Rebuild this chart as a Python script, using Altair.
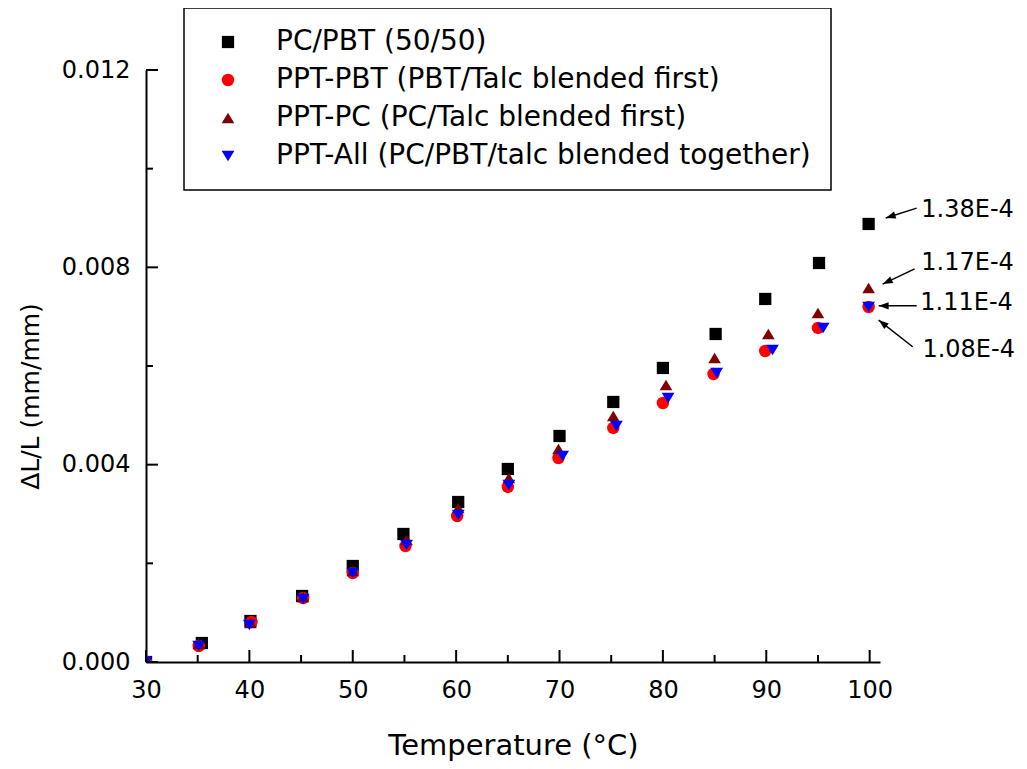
import altair as alt
import pandas as pd
import numpy as np

FONT = "DejaVu Sans"

# ---------------- data ----------------
series_names = [
    "PC/PBT (50/50)",
    "PPT-PBT (PBT/Talc blended first)",
    "PPT-PC (PC/Talc  blended first)",
    "PPT-All (PC/PBT/talc blended together)",
]
series_colors = ["#000000", "#ff0000", "#800000", "#0000ff"]
TRI_UP = "M-1,0.82L1,0.82L0,-0.82Z"
TRI_DOWN = "M-1,-0.82L1,-0.82L0,0.82Z"
series_shapes = ["square", "circle", TRI_UP, TRI_DOWN]
series_sizes = [150, 165, 245, 245]

temp_pcpbt = [30, 35.4, 40.1, 45.1, 50.0, 54.9, 60.2, 65.0, 70.0, 75.2, 80.0, 85.1, 89.9, 95.1, 99.9]
dl_pcpbt = [0, 0.000385, 0.000831, 0.001338, 0.001946, 0.002595, 0.003243, 0.003912,
            0.004581, 0.005271, 0.005960, 0.006649, 0.007359, 0.008088, 0.008879]

temp_ppt_pbt = [30, 35.1, 40.2, 45.2, 50.0, 55.1, 60.1, 65.0, 69.9, 75.2, 80.0, 84.9, 89.9, 95.0, 99.9]
dl_ppt_pbt = [0, 0.000324, 0.000811, 0.001297, 0.001804, 0.002351, 0.002960, 0.003548,
              0.004135, 0.004744, 0.005250, 0.005838, 0.006304, 0.006771, 0.007196]

temp_ppt_pc = [30, 35.1, 40.1, 45.2, 50.0, 55.2, 60.2, 65.1, 69.9, 75.2, 80.3, 85.0, 90.2, 95.0, 99.9]
dl_ppt_pc = [0, 0.000365, 0.000791, 0.001318, 0.001845, 0.002473, 0.003122, 0.003730,
             0.004318, 0.004987, 0.005615, 0.006163, 0.006649, 0.007075, 0.007582]

temp_ppt_all = [30, 35.1, 40.0, 45.2, 50.0, 55.2, 60.2, 65.1, 70.3, 75.5, 80.5, 85.2, 90.6, 95.5, 99.9]
dl_ppt_all = [0, 0.000324, 0.000750, 0.001277, 0.001804, 0.002372, 0.002980, 0.003588,
              0.004176, 0.004784, 0.005352, 0.005858, 0.006325, 0.006771, 0.007196]

x_major = [30, 40, 50, 60, 70, 80, 90, 100]
x_minor = [35, 45, 55, 65, 75, 85, 95]
y_major = [0.0, 0.004, 0.008, 0.012]
y_minor = [0.002, 0.006, 0.010]

ann_text = ["1.38E-4", "1.17E-4", "1.11E-4", "1.08E-4"]
ann_text_x = [105.0, 105.0, 104.9, 105.1]
ann_text_y = [0.00916, 0.00809, 0.00728, 0.00632]
arrow_tail_x = [104.55, 104.35, 104.55, 104.16]
arrow_tail_y = [0.00920, 0.00797, 0.00722, 0.00639]
arrow_head_x = [101.55, 101.26, 100.87, 100.87]
arrow_head_y = [0.00900, 0.00766, 0.00722, 0.00693]

# ---------------- layout ----------------
W, H = 734, 592
X_DOMAIN = [30, 101]
Y_DOMAIN = [0, 0.012]
px_per_x = W / (X_DOMAIN[1] - X_DOMAIN[0])
px_per_y = H / (Y_DOMAIN[1] - Y_DOMAIN[0])

xs = alt.Scale(domain=X_DOMAIN, nice=False, zero=False)
ys = alt.Scale(domain=Y_DOMAIN, nice=False, zero=False)

X_TITLE = "Temperature (°C)"
Y_TITLE = "ΔL/L (mm/mm)"
ax_x = alt.Axis(values=x_major, format="d", title=X_TITLE, labelFlush=False,
                titleX=W / 2, titleY=83, titleAlign="center", titleBaseline="middle",
                titleFontSize=29)
ax_y = alt.Axis(values=y_major, format=".3f", title=Y_TITLE, labelFlush=False,
                titleX=-116, titleY=326, titleAngle=270, titleAlign="center",
                titleBaseline="middle", titleFontSize=25)

# ---------------- tables ----------------
frames = []
for name, t, d in [
    (series_names[0], temp_pcpbt, dl_pcpbt),
    (series_names[1], temp_ppt_pbt, dl_ppt_pbt),
    (series_names[2], temp_ppt_pc, dl_ppt_pc),
    (series_names[3], temp_ppt_all, dl_ppt_all),
]:
    frames.append(pd.DataFrame({"series": name, "temp": t, "dl": d}))
df = pd.concat(frames, ignore_index=True)
df["order"] = df["series"].map({n: i for i, n in enumerate(series_names)})

points = alt.Chart(df).mark_point(filled=True, opacity=1, strokeWidth=0, clip=True).encode(
    x=alt.X("temp:Q", scale=xs, axis=ax_x, title=X_TITLE),
    y=alt.Y("dl:Q", scale=ys, axis=ax_y, title=Y_TITLE),
    color=alt.Color("series:N", scale=alt.Scale(domain=series_names, range=series_colors),
                    legend=alt.Legend(title=None)),
    shape=alt.Shape("series:N", scale=alt.Scale(domain=series_names, range=series_shapes),
                    legend=alt.Legend(title=None)),
    size=alt.Size("series:N", scale=alt.Scale(domain=series_names, range=series_sizes), legend=None),
    order=alt.Order("order:Q"),
)


def tick_layer(vals, along, length):
    d = pd.DataFrame({"v": vals})
    if along == "x":
        return alt.Chart(d).mark_rule(color="black", strokeWidth=2).encode(
            x=alt.X("v:Q", scale=xs, axis=ax_x, title=X_TITLE),
            y=alt.value(H), y2=alt.value(H - length))
    return alt.Chart(d).mark_rule(color="black", strokeWidth=2).encode(
        y=alt.Y("v:Q", scale=ys, axis=ax_y, title=Y_TITLE),
        x=alt.value(0), x2=alt.value(length))


ticks = [tick_layer(x_major, "x", 12), tick_layer(x_minor, "x", 7),
         tick_layer(y_major, "y", 12), tick_layer(y_minor, "y", 7)]

adf = pd.DataFrame({
    "text": ann_text, "tx": ann_text_x, "ty": ann_text_y,
    "x1": arrow_tail_x, "y1": arrow_tail_y, "x2": arrow_head_x, "y2": arrow_head_y,
})
dx = (adf["x2"] - adf["x1"]) * px_per_x
dy = -(adf["y2"] - adf["y1"]) * px_per_y
adf["ang"] = (np.degrees(np.arctan2(dx, -dy)) + 360) % 360

shafts = alt.Chart(adf).mark_rule(color="black", strokeWidth=1.5).encode(
    x=alt.X("x1:Q", scale=xs, axis=ax_x, title=X_TITLE),
    y=alt.Y("y1:Q", scale=ys, axis=ax_y, title=Y_TITLE),
    x2="x2:Q", y2="y2:Q")
heads = alt.Chart(adf).mark_point(
    shape="M0,0L0.36,1L-0.36,1Z", filled=True, color="black", opacity=1, size=400, strokeWidth=0
).encode(
    x=alt.X("x2:Q", scale=xs, axis=ax_x, title=X_TITLE),
    y=alt.Y("y2:Q", scale=ys, axis=ax_y, title=Y_TITLE),
    angle=alt.Angle("ang:Q", scale=None))
labels = alt.Chart(adf).mark_text(align="left", baseline="middle", fontSize=24, font=FONT,
                                  color="black").encode(
    x=alt.X("tx:Q", scale=xs, axis=ax_x, title=X_TITLE),
    y=alt.Y("ty:Q", scale=ys, axis=ax_y, title=Y_TITLE),
    text="text:N")

chart = alt.layer(points, *ticks, shafts, heads, labels).properties(
    width=W, height=H,
    autosize=alt.AutoSizeParams(type="none"),
    padding={"left": 138, "top": 62, "right": 139, "bottom": 99},
    background="white",
).configure_view(stroke=None).configure_axis(
    grid=False, ticks=False, domainColor="black", domainWidth=2,
    labelFont=FONT, labelFontSize=24, labelColor="black", labelPadding=16,
    labelOverlap=False,
    titleFont=FONT, titleColor="black", titleFontWeight="normal",
).configure_legend(
    orient="none", legendX=38, legendY=-62,
    labelFont=FONT, labelFontSize=28, labelColor="black", labelLimit=0,
    symbolSize=235, symbolOpacity=1, symbolStrokeWidth=0, symbolOffset=10, labelOffset=34,
    padding=20, rowPadding=10, strokeColor="black", strokeWidth=1.5, fillColor="white",
)

chart.save("out.html", embed_options={"renderer": "svg", "actions": False})
